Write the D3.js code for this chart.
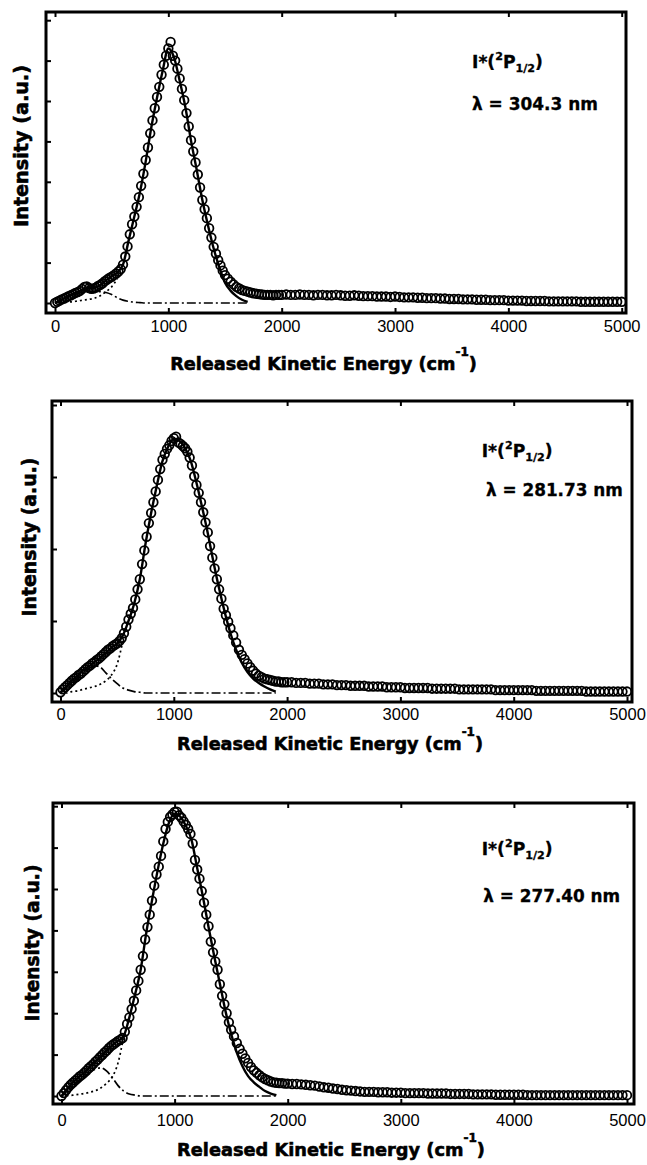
<!DOCTYPE html>
<html><head><meta charset="utf-8">
<script src="https://cdn.jsdelivr.net/npm/d3@7"></script>
<style>body{margin:0;background:#fff}svg{display:block;background:#fff}</style>
</head><body>
<svg id="c" width="647" height="1165"></svg>
<script>
// ---------- DATA ----------
const energies = [
0,20,40,60,80,100,120,140,160,180,
200,220,240,260,280,300,320,340,360,380,
400,420,440,460,480,500,520,540,560,580,
600,620,640,660,680,700,720,740,760,780,
800,820,840,860,880,900,920,940,960,980,
1000,1020,1040,1060,1080,1100,1120,1140,1160,1180,
1200,1220,1240,1260,1280,1300,1320,1340,1360,1380,
1400,1420,1440,1460,1480,1500,
1525,1550,1575,1600,1625,1650,1675,1700,1725,1750,1775,1800,1825,1850,1875,1900,1925,1950,1975,
2000,2040,2080,2120,2160,2200,2240,2280,2320,2360,
2400,2440,2480,2520,2560,2600,2640,2680,2720,2760,
2800,2840,2880,2920,2960,3000,3040,3080,3120,3160,
3200,3240,3280,3320,3360,3400,3440,3480,3520,3560,
3600,3640,3680,3720,3760,3800,3840,3880,3920,3960,
4000,4040,4080,4120,4160,4200,4240,4280,4320,4360,
4400,4440,4480,4520,4560,4600,4640,4680,4720,4760,
4800,4840,4880,4920,4960,5000];

const intensity304 = [
0.00,0.03,0.06,0.09,0.11,0.14,0.17,0.19,0.22,0.25,
0.27,0.30,0.35,0.40,0.41,0.37,0.35,0.36,0.38,0.42,
0.45,0.49,0.54,0.58,0.62,0.65,0.69,0.73,0.78,0.84,
0.95,1.15,1.40,1.70,1.95,2.14,2.38,2.62,2.90,3.20,
3.54,3.85,4.20,4.52,4.82,5.10,5.35,5.65,5.90,6.12,
6.30,6.46,6.12,6.00,5.80,5.56,5.30,5.02,4.70,4.37,
4.03,3.75,3.48,3.18,2.86,2.55,2.32,2.10,1.85,1.62,
1.39,1.22,1.06,0.93,0.80,0.69,
0.60,0.53,0.46,0.40,0.36,0.32,0.30,0.28,0.26,0.24,0.23,0.22,0.21,0.20,0.20,0.20,0.19,0.20,0.20,
0.20,0.21,0.20,0.20,0.21,0.20,0.20,0.19,0.20,0.20,
0.19,0.19,0.20,0.19,0.18,0.18,0.19,0.18,0.17,0.17,
0.17,0.16,0.16,0.16,0.15,0.16,0.15,0.14,0.14,0.14,
0.13,0.13,0.12,0.12,0.12,0.11,0.11,0.10,0.10,0.10,
0.09,0.09,0.09,0.08,0.08,0.08,0.07,0.07,0.07,0.07,
0.06,0.06,0.06,0.06,0.05,0.05,0.05,0.05,0.05,0.04,
0.04,0.04,0.04,0.04,0.04,0.04,0.03,0.03,0.03,0.03,
0.03,0.03,0.03,0.03,0.03,0.03];

const intensity281 = [
0.01,0.05,0.08,0.11,0.14,0.17,0.20,0.22,0.25,0.27,
0.30,0.33,0.36,0.38,0.41,0.43,0.46,0.48,0.51,0.54,
0.57,0.60,0.62,0.65,0.67,0.69,0.72,0.76,0.83,0.92,
1.02,1.10,1.18,1.30,1.44,1.58,1.79,1.98,2.17,2.36,
2.50,2.65,2.80,2.96,3.11,3.24,3.32,3.39,3.44,3.50,
3.54,3.56,3.48,3.46,3.43,3.40,3.35,3.27,3.16,3.01,
2.89,2.78,2.65,2.51,2.37,2.23,2.04,1.88,1.73,1.58,
1.44,1.31,1.17,1.08,0.99,0.90,
0.80,0.70,0.60,0.53,0.47,0.41,0.36,0.31,0.27,0.24,0.22,0.20,0.19,0.18,0.17,0.16,0.16,0.15,0.15,
0.15,0.15,0.14,0.14,0.14,0.13,0.13,0.13,0.12,0.12,
0.12,0.11,0.11,0.11,0.10,0.10,0.10,0.10,0.09,0.09,
0.09,0.09,0.08,0.08,0.08,0.08,0.07,0.07,0.07,0.07,
0.07,0.07,0.06,0.06,0.06,0.06,0.06,0.06,0.05,0.05,
0.05,0.05,0.05,0.05,0.05,0.05,0.04,0.04,0.04,0.04,
0.04,0.04,0.04,0.04,0.04,0.03,0.03,0.03,0.03,0.03,
0.03,0.03,0.03,0.03,0.03,0.03,0.02,0.02,0.02,0.02,
0.02,0.02,0.02,0.02,0.02,0.02];

const intensity277 = [
0.00,0.07,0.14,0.21,0.27,0.32,0.37,0.42,0.47,0.51,
0.56,0.61,0.67,0.72,0.77,0.83,0.88,0.94,0.99,1.05,
1.10,1.16,1.21,1.25,1.29,1.33,1.36,1.40,1.55,1.74,
1.90,2.10,2.30,2.55,2.78,3.05,3.38,3.78,4.08,4.38,
4.72,5.08,5.35,5.54,5.80,6.15,6.45,6.62,6.74,6.80,
6.86,6.87,6.78,6.72,6.63,6.55,6.45,6.33,6.10,5.70,
5.47,5.25,4.95,4.67,4.38,4.10,3.73,3.47,3.25,3.05,
2.70,2.42,2.22,2.00,1.78,1.60,
1.44,1.28,1.14,1.02,0.91,0.80,0.70,0.62,0.56,0.50,0.45,0.41,0.38,0.35,0.33,0.32,0.31,0.31,0.30,
0.30,0.29,0.29,0.28,0.27,0.26,0.25,0.23,0.21,0.20,
0.18,0.17,0.15,0.14,0.13,0.12,0.11,0.10,0.10,0.10,
0.09,0.09,0.09,0.08,0.08,0.08,0.07,0.07,0.07,0.07,
0.07,0.06,0.06,0.06,0.06,0.06,0.05,0.05,0.05,0.05,
0.05,0.04,0.04,0.04,0.04,0.04,0.03,0.03,0.03,0.03,
0.03,0.03,0.03,0.02,0.02,0.02,0.02,0.02,0.02,0.02,
0.02,0.02,0.02,0.02,0.02,0.02,0.02,0.02,0.02,0.02,
0.02,0.02,0.02,0.02,0.02,0.02];

const fitEnergies = [0,50,100,150,200,250,300,350,400,450,500,550,600,650,700,750,800,850,900,950,
1000,1050,1100,1150,1200,1250,1300,1350,1400,1450,1500,1550,1600,1650,1700,1750,1800,1850,1900];

const fitTotal304 = [0,0.07,0.14,0.21,0.27,0.34,0.37,0.38,0.44,0.56,0.66,0.76,0.95,1.55,2.14,2.75,3.50,4.35,5.08,5.75,
6.30,6.08,5.50,4.85,4.02,3.30,2.55,1.92,1.35,0.88,0.50,0.30,0.17,0.08,0.03,null,null,null,null];
const fitSlow304 = [0,0.01,0.02,0.03,0.05,0.07,0.09,0.12,0.18,0.28,0.40,0.60,null,null,null,null,null,null,null,null,
null,null,null,null,null,null,null,null,null,null,null,null,null,null,null,null,null,null,null];
const fitFast304 = [0,0.07,0.13,0.19,0.23,0.27,0.29,0.29,0.28,0.26,0.21,0.13,0.07,0.04,0.02,0.01,0,0,0,0,
0,0,0,0,0,0,0,0,0,0,0,0,0,0,0,null,null,null,null];

const fitTotal281 = [0.01,0.09,0.17,0.24,0.31,0.37,0.43,0.49,0.56,0.63,0.69,0.80,1.00,1.24,1.58,2.07,2.50,2.88,3.22,3.42,
3.53,3.50,3.40,3.22,2.92,2.58,2.22,1.82,1.45,1.12,0.83,0.60,0.42,0.29,0.20,0.14,0.09,0.05,0.02];
const fitSlow281 = [0,0,0.02,0.03,0.05,0.07,0.09,0.12,0.17,0.25,0.40,0.72,null,null,null,null,null,null,null,null,
null,null,null,null,null,null,null,null,null,null,null,null,null,null,null,null,null,null,null];
const fitFast281 = [0,0.07,0.14,0.21,0.28,0.34,0.38,0.36,0.28,0.20,0.13,0.07,0.04,0.02,0.01,0,0,0,0,0,
0,0,0,0,0,0,0,0,0,0,0,0,0,0,0,0,0,0,0];

const fitTotal277 = [0,0.17,0.32,0.45,0.56,0.70,0.83,0.96,1.10,1.23,1.33,1.45,1.90,2.45,3.05,3.95,4.72,5.45,6.10,6.60,
6.82,6.75,6.52,6.18,5.50,4.82,4.08,3.38,2.72,2.05,1.50,1.05,0.72,0.48,0.33,0.22,0.12,0.06,0.02];
const fitSlow277 = [0,0.01,0.02,0.04,0.06,0.09,0.13,0.20,0.31,0.47,0.80,1.45,null,null,null,null,null,null,null,null,
null,null,null,null,null,null,null,null,null,null,null,null,null,null,null,null,null,null,null];
const fitFast277 = [0,0.12,0.24,0.36,0.47,0.57,0.65,0.68,0.60,0.44,0.25,0.12,0.05,0.02,0,0,0,0,0,0,
0,0,0,0,0,0,0,0,0,0,0,0,0,0,0,0,0,0,0];

const xTickValues = [0,1000,2000,3000,4000,5000];
const wavelengthLabels = ["λ = 304.3 nm","λ = 281.73 nm","λ = 277.40 nm"];
const xTitle = "Released Kinetic Energy (cm";
const yTitle = "Intensity (a.u.)";

// ---------- LAYOUT ----------
const layout = [
 {frame:[46,12,626,313], xr:[55,621.7], yr:[303,20.2], yMax:7, tickBase:332,
  xT:[323.5,370,307], yT:[28,146,162], lab:[472,68,71], lam:[472,110,126]},
 {frame:[52,401,632,702], xr:[60.5,627], yr:[693,405], yMax:4, tickBase:720,
  xT:[330,750,306], yT:[36,537,159], lab:[481.7,457,71], lam:[486,496,137]},
 {frame:[53,803,634,1104], xr:[61.5,627], yr:[1096,806.2], yMax:7, tickBase:1126,
  xT:[331,1156,308], yT:[39,943,157], lab:[481.7,855,71], lam:[483.3,902,137]}
];
const series = [
 {data:intensity304, tot:fitTotal304, slow:fitSlow304, fast:fitFast304},
 {data:intensity281, tot:fitTotal281, slow:fitSlow281, fast:fitFast281},
 {data:intensity277, tot:fitTotal277, slow:fitSlow277, fast:fitFast277}
];

const svg = d3.select("#c");
const BOLD = "'DejaVu Sans', 'Liberation Sans', Arial, sans-serif";
const REG = "'Liberation Sans', Arial, Helvetica, sans-serif";

function fitScale(g, text, target, extra) {
  const w = text.node().getBBox().width;
  const k = target / w;
  g.attr("transform", extra + ` scale(${k},1)`);
}

layout.forEach((L, i) => {
  const S = series[i];
  const [fl, ft, fr, fb] = L.frame;
  const x = d3.scaleLinear().domain([0, 5000]).range(L.xr);
  const y = d3.scaleLinear().domain([0, 1]).range([L.yr[0], L.yr[0] - (L.yr[0] - L.yr[1]) / L.yMax]);
  const g = svg.append("g");

  // fits
  const line = d3.line().defined(d => d[1] !== null)
      .x(d => x(d[0])).y(d => y(d[1])).curve(d3.curveMonotoneX);
  const pts = arr => fitEnergies.map((e, j) => [e, arr[j]]);
  g.append("path").attr("d", line(pts(S.fast))).attr("fill", "none")
    .attr("stroke", "#000").attr("stroke-width", 1.7).attr("stroke-dasharray", "9,3,2,3");
  g.append("path").attr("d", line(pts(S.slow))).attr("fill", "none")
    .attr("stroke", "#000").attr("stroke-width", 1.7).attr("stroke-dasharray", "2,3");
  g.append("path").attr("d", line(pts(S.tot))).attr("fill", "none")
    .attr("stroke", "#000").attr("stroke-width", 2.4);

  // data circles
  g.selectAll("circle.d").data(energies.map((e, j) => [e, S.data[j]])).enter()
    .append("circle").attr("class", "d")
    .attr("cx", d => x(d[0])).attr("cy", d => y(d[1])).attr("r", 4.3)
    .attr("fill", "none").attr("stroke", "#000").attr("stroke-width", 1.8);

  // frame
  g.append("rect").attr("x", fl).attr("y", ft).attr("width", fr - fl).attr("height", fb - ft)
    .attr("fill", "none").attr("stroke", "#000").attr("stroke-width", 3);

  // axes
  const pad = L.tickBase - fb - 12;
  const ax = g.append("g").attr("transform", `translate(0,${fb})`)
    .call(d3.axisBottom(x).tickValues(xTickValues).tickSize(-5).tickPadding(pad).tickFormat(d3.format("d")));
  ax.select(".domain").remove();
  ax.selectAll("line").attr("stroke-width", 2);
  ax.selectAll("text").attr("font-family", REG).attr("font-size", 16.5).attr("fill", "#000");

  const at = g.append("g").attr("transform", `translate(0,${ft})`)
    .call(d3.axisTop(x).tickValues(xTickValues).tickSize(-5).tickFormat(""));
  at.select(".domain").remove();
  at.selectAll("line").attr("stroke-width", 2);

  const yt = d3.range(0, L.yMax + 1);
  const al = g.append("g").attr("transform", `translate(${fl},0)`)
    .call(d3.axisLeft(y).tickValues(yt).tickSize(-5).tickFormat(""));
  al.select(".domain").remove();
  al.selectAll("line").attr("stroke-width", 2);

  // x title
  const gx = g.append("g");
  const tx = gx.append("text").attr("text-anchor", "middle").attr("font-family", BOLD)
    .attr("font-weight", "bold").attr("font-size", 18.5).attr("fill", "#000")
    .attr("stroke", "#000").attr("stroke-width", 0.6);
  tx.append("tspan").text(xTitle);
  tx.append("tspan").attr("font-size", 12.5).attr("dy", -14).text("-1");
  tx.append("tspan").attr("dy", 14).text(")");
  fitScale(gx, tx, L.xT[2], `translate(${L.xT[0]},${L.xT[1]})`);

  // y title
  const gy = g.append("g");
  const ty = gy.append("text").attr("text-anchor", "middle").attr("font-family", BOLD)
    .attr("font-weight", "bold").attr("font-size", 19).attr("fill", "#000")
    .attr("stroke", "#000").attr("stroke-width", 0.6).text(yTitle);
  fitScale(gy, ty, L.yT[2], `translate(${L.yT[0]},${L.yT[1]}) rotate(-90)`);

  // species label
  const gl = g.append("g");
  const tl = gl.append("text").attr("font-family", BOLD).attr("font-weight", "bold")
    .attr("font-size", 17).attr("fill", "#000").attr("stroke", "#000").attr("stroke-width", 0.3);
  tl.append("tspan").text("I*(");
  tl.append("tspan").attr("font-size", 11).attr("dy", -8).text("2");
  tl.append("tspan").attr("dy", 8).text("P");
  tl.append("tspan").attr("font-size", 11).attr("dy", 4).text("1/2");
  tl.append("tspan").attr("dy", -4).text(")");
  fitScale(gl, tl, L.lab[2], `translate(${L.lab[0]},${L.lab[1]})`);

  // wavelength label
  const gw = g.append("g");
  const tw = gw.append("text").attr("font-family", BOLD).attr("font-weight", "bold")
    .attr("font-size", 17).attr("fill", "#000").attr("stroke", "#000").attr("stroke-width", 0.3)
    .text(wavelengthLabels[i]);
  fitScale(gw, tw, L.lam[2], `translate(${L.lam[0]},${L.lam[1]})`);
});
</script>
</body></html>
